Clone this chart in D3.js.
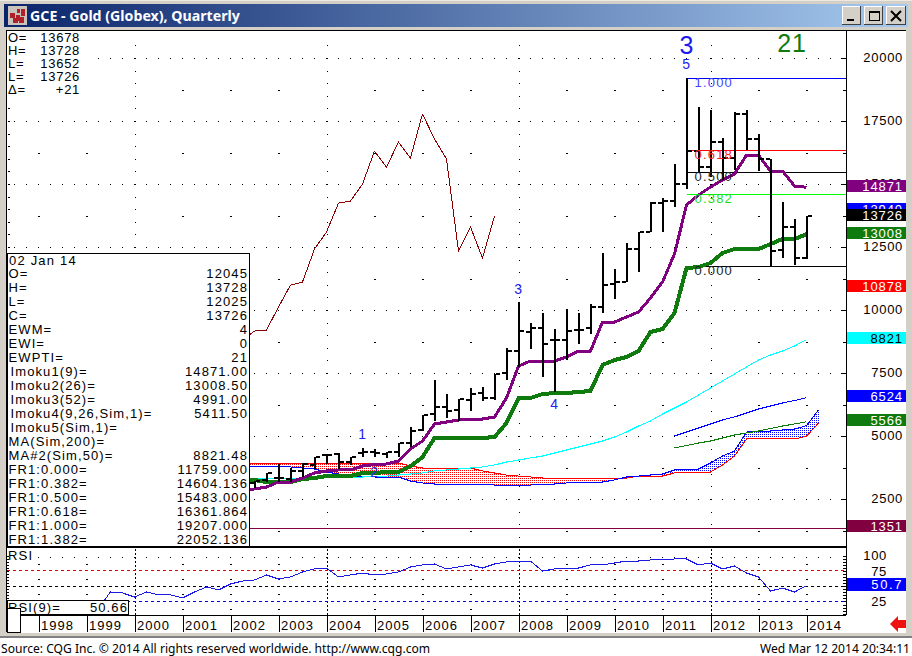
<!DOCTYPE html>
<html>
<head>
<meta charset="utf-8">
<title>GCE - Gold (Globex), Quarterly</title>
<script src="https://cdn.jsdelivr.net/npm/d3@7"></script>
<style>
  html, body { margin: 0; padding: 0; background: #fff; overflow: hidden; }
  svg { display: block; }
  text { font-family: "Liberation Sans", Arial, sans-serif; font-size: 13px; letter-spacing: 0.7px; fill: #000; }
  .crisp { shape-rendering: crispEdges; }
  .axis text { font-size: 13px; }
  .axis path { display: none; }
</style>
</head>
<body>
<div id="chart"></div>
<script>
// quarterly bars, first one is 2002 Q3
var firstBarYear = 2002.5;
var barOpen = [3135,3254,3333,3293,3611,3849,4246,4285,3968,4325,4365,4285,4365,4722,5238,5873,6150,6031,6428,6706,6508,7500,8372,9126,9285,8809,8809,9206,9285,10118,11031,11110,12420,13094,14245,14325,14999,16308,15674,16666,16031,17777,16785,15991,12380,13293,12045];
var barHigh = [3214,3532,3889,3730,3928,4166,4285,4325,4166,4524,4484,4365,4722,5357,5833,7222,6666,6468,6904,6944,7460,8492,10317,9484,9880,9245,10039,9880,10237,12261,11626,12658,13094,14285,14444,15793,19207,18054,17935,16824,17856,17935,16983,15991,14285,13610,13728];
var barLow = [2936,3174,3174,3174,3373,3690,3889,3690,3849,4166,4166,4127,4166,4563,5198,5595,5714,5595,5992,6388,6428,7222,7738,8452,7341,6746,8015,8650,9047,9880,10436,11110,11507,13094,13094,14086,14800,15436,15277,15158,15555,16348,15515,11759,12063,11785,12025];
var barClose = [3214,3532,3333,3611,3889,4166,4246,3968,4166,4365,4325,4365,4722,5198,5833,6150,5992,6468,6666,6508,7460,8372,9166,9285,8650,8809,9166,9206,10118,10991,11110,12420,13094,14245,14325,14999,16308,15674,16666,16031,17777,16785,15991,12341,13293,12063,13726];

// overlay studies, first value is 2002 Q2
var overlayStart = 2002.25;
var imoku1 = [2860,2897,2976,3174,3174,3333,3532,3611,3651,3651,3809,3869,3889,4008,4484,4801,5476,5555,5635,5654,5674,5754,6508,7777,7976,7976,7976,8134,8372,8372,9523,9523,9722,9920,10476,11110,12222,14166,14563,14880,15158,15396,16150,16150,15515,15515,14920,14871];
var imoku2 = [3254,3254,3174,3174,3174,3293,3333,3412,3412,3412,3532,3532,3571,3571,3809,4166,4920,4920,4920,4920,4920,4960,5516,6508,6508,6666,6706,6706,6746,6785,7817,8015,8134,8372,9126,9245,9880,11666,11706,11864,12261,12420,12420,12420,12618,12817,12817,13008];
var spanRed = [3928,3928,3928,3928,3928,3928,3928,3928,3928,3928,3928,3928,3928,3928,3809,3730,3730,3730,3730,3730,3611,3532,3452,3412,3373,3333,3333,3333,3333,3333,3333,3333,3333,3412,3412,3412,3532,3532,3571,3571,3849,4206,4881,4881,4881,4881,4881,4991,5516];
var spanBlue = [3809,3809,3809,3770,3770,3730,3690,3571,3492,3412,3412,3373,3373,3373,3214,3135,3095,3095,3095,3095,3095,3055,3055,3055,3055,3095,3095,3135,3135,3135,3174,3254,3373,3412,3452,3492,3651,3651,3690,3928,4206,4404,5158,5198,5198,5238,5277,5411,6031];
var maCyan = [3333,3333,3333,3333,3333,3333,3373,3373,3373,3373,3373,3412,3412,3452,3492,3532,3611,3651,3690,3730,3770,3849,3968,4047,4127,4206,4325,4444,4563,4682,4801,4960,5158,5396,5595,5873,6111,6349,6627,6904,7182,7460,7738,8015,8214,8372,8571,8821];

// the two late lines start in 2011 Q2
var lateStart = 2011.25;
var lateBlue = [5000,5158,5317,5476,5635,5754,5912,6071,6190,6309,6408,6524];
var lateGreen = [4524,4623,4722,4801,4920,5039,5119,5198,5297,5396,5476,5566];

// RSI, first value is 1999 Q2
var rsiStart = 1999.25;
var rsiValues = [14,40.5,38.9,32.3,40.5,35.6,35.6,30.7,40.5,48.7,43.8,53.6,58.5,60.2,68.4,61.8,65.1,73.3,78.2,79.8,65.1,68.4,71.6,68.4,70,73.3,81.5,84.8,86.4,78.2,81.5,84.8,79.8,86.4,89.7,91.3,91.3,74.9,78.2,79.8,79.8,84.8,84.8,88,91.3,91.3,93,93,94.6,94.6,84.8,88,78.2,83.1,71.6,65.1,42.1,47,40.5,50.66];

var years = [1998,1999,2000,2001,2002,2003,2004,2005,2006,2007,2008,2009,2010,2011,2012,2013,2014];
var priceTicks = [20000,17500,15000,12500,10000,7500,5000,2500];
var rsiTicks = [100,75,25];

var fibLevels = ["1.000","0.618","0.500","0.382","0.000"];
var fibPrices = [19207,16361.864,15483,14604.136,11759];
var fibColors = ["#0000ff","#ff0000","#000000","#00ff00","#000000"];
var fibTextColors = ["#4444ff","#ff2020","#222222","#22dd22","#222222"];

var waveLabels = ["1","2","3","4","5"];
var waveYears = [2004.75,2005,2008,2008.75,2011.5];
var wavePrices = [4880,3373,10635,6071,19563];

var tagTexts = ["13940","14871","13726","13008","10878","8821","6524","5566","1351"];
var tagPrices = [13968,14871,13726,13008,10878,8821,6524,5566,1351];
var tagColors = ["#0000ff","#800080","#000000","#0f7b0f","#ff0000","#00ffff","#0000ff","#0f7b0f","#800040"];
var tagTextColors = ["#fff","#fff","#fff","#fff","#fff","#000","#fff","#fff","#fff"];

var quoteLabels = ["O=","H=","L=","L=","\u0394="];
var quoteValues = ["13678","13728","13652","13726","+21"];

var infoLabels = ["O=","H=","L=","C=","EWM=","EWI=","EWPTI="," Imoku1(9)="," Imoku2(26)="," Imoku3(52)="," Imoku4(9,26,Sim,1)="," Imoku5(Sim,1)=","MA(Sim,200)=","MA#2(Sim,50)=","FR1:0.000=","FR1:0.382=","FR1:0.500=","FR1:0.618=","FR1:1.000=","FR1:1.382="];
var infoValues = ["12045","13728","12025","13726","4","0","21","14871.00","13008.50","4991.00","5411.50","","","8821.48","11759.000","14604.136","15483.000","16361.864","19207.000","22052.136"];

var width = 912, height = 656;
var plot = {left: 7, right: 846, top: 31, bottom: 547, rsiTop: 548, rsiBottom: 615, axisBottom: 632};

var svg = d3.select("#chart").append("svg")
  .attr("width", width)
  .attr("height", height);

var x = d3.scaleLinear().domain([1998, 2014]).range([38.5, 806.5]);
var y = d3.scaleLinear().domain([0, 20000]).range([562, 58]);
var rsiY = d3.scaleLinear().domain([0, 100]).range([616.7, 555.7]);

function rect(parent, rx, ry, w, h, fill) {
  return parent.append("rect").attr("x", rx).attr("y", ry).attr("width", w).attr("height", h)
    .attr("fill", fill).attr("class", "crisp");
}

// window frame
rect(svg, 0, 0, width, height, "#d4d0c8");
rect(svg, 0, 638, width, 18, "#ffffff");
rect(svg, 0, 0, width, 1, "#ece9e0");
rect(svg, 0, 636, width, 2, "#808080");

var grad = svg.append("defs").append("linearGradient").attr("id", "titlebar");
grad.append("stop").attr("offset", "0%").attr("stop-color", "#0a246a");
grad.append("stop").attr("offset", "100%").attr("stop-color", "#a6caf0");
rect(svg, 4, 4, width - 8, 23, "url(#titlebar)");

// title icon
rect(svg, 8, 6, 19, 19, "#c8c4bc");
[[10,13,5,5],[16,15,4,6],[21,9,4,7],[13,18,5,5],[19,17,5,6],[17,9,3,4]].forEach(function(s) {
  rect(svg, s[0], s[1], s[2], s[3], "#b02028");
});

svg.append("text").attr("x", 30).attr("y", 21)
  .style("font-family", "'Noto Sans', sans-serif").style("font-weight", "bold").style("font-size", "14.2px")
  .style("letter-spacing", "0px").style("fill", "#fff")
  .text("GCE - Gold (Globex), Quarterly");

// window buttons
[842, 864, 886].forEach(function(bx, i) {
  var w = i == 2 ? 20 : 19;
  rect(svg, bx, 6, w, 19, "#d4d0c8");
  rect(svg, bx, 6, w, 1, "#ffffff");
  rect(svg, bx, 6, 1, 19, "#ffffff");
  rect(svg, bx, 24, w, 1, "#404040");
  rect(svg, bx + w - 1, 6, 1, 19, "#404040");
});
rect(svg, 847, 19, 7, 2, "#000");
svg.append("rect").attr("x", 869.5).attr("y", 11.5).attr("width", 10).attr("height", 9)
  .attr("fill", "none").attr("stroke", "#000").attr("class", "crisp");
rect(svg, 869, 11, 11, 2, "#000");
svg.append("path").attr("d", "M891,11L901,21M901,11L891,21").attr("stroke", "#000").attr("stroke-width", 2);

// white chart area
rect(svg, plot.left, plot.top, 899, plot.axisBottom - plot.top + 1, "#ffffff");

var gridLayer = svg.append("g").attr("class", "crisp");

// quarter positions for dotted rows, going back from the last bar
var quarters = d3.range(1998 - 0.5, 2014.75, 0.25).filter(function(q) { return x(q) > plot.left + 6 && x(q) < plot.right - 4; });
var wholeYears = d3.range(1998, 2015);
var fourYears = [2000, 2004, 2008, 2012];

// price rows
priceTicks.forEach(function(p) {
  gridLayer.selectAll(null).data(quarters).enter().append("rect")
    .attr("x", function(d) { return x(d) - 0.5; }).attr("y", Math.round(y(p))).attr("width", 1).attr("height", 1).attr("fill", "#000");
});
// price half rows, short dashes at the year positions
d3.range(1250, 20000, 2500).forEach(function(p) {
  gridLayer.selectAll(null).data(wholeYears.filter(function(d) { return fourYears.indexOf(d) < 0; })).enter().append("rect")
    .attr("x", function(d) { return x(d) - 0.5; }).attr("y", Math.round(y(p))).attr("width", 2).attr("height", 1).attr("fill", "#000");
});
// dotted columns every four years
fourYears.forEach(function(yr) {
  gridLayer.selectAll(null).data(d3.range(0, 21000, 500).filter(function(p) { return y(p) > plot.top + 2 && y(p) < plot.bottom; })).enter().append("rect")
    .attr("x", Math.round(x(yr))).attr("y", function(d) { return Math.round(y(d)); }).attr("width", 1).attr("height", 1).attr("fill", "#000");
});

// axis tick combs on the price pane
d3.range(0, 21000, 1250).forEach(function(p) {
  var major = p % 2500 == 0;
  if (y(p) < plot.top || y(p) > plot.bottom) return;
  rect(gridLayer, major ? plot.right - 5 : plot.right - 3, Math.round(y(p)), major ? 5 : 3, 1, "#000");
});
d3.range(0, 21000, 500).forEach(function(p) {
  if (y(p) < plot.top || y(p) > plot.bottom) return;
  rect(gridLayer, plot.left + 1, Math.round(y(p)), 2, 1, "#000");
});

function seriesLine(start) {
  return d3.line()
    .x(function(d, i) { return x(start + i / 4); })
    .y(function(d) { return y(d); });
}

// dotted fill between the two span lines
var defs = svg.select("defs");
[["dotRed", "#ff0000"], ["dotBlue", "#0000ff"]].forEach(function(p) {
  var pat = defs.append("pattern").attr("id", p[0]).attr("width", 2).attr("height", 2).attr("patternUnits", "userSpaceOnUse");
  pat.append("rect").attr("width", 1).attr("height", 1).attr("fill", p[1]).attr("class", "crisp");
});
var spanIdx = d3.range(spanRed.length);
svg.append("path").datum(spanIdx)
  .attr("fill", "url(#dotRed)").attr("class", "crisp")
  .attr("d", d3.area()
    .x(function(i) { return x(overlayStart + i / 4); })
    .y0(function(i) { return y(Math.min(spanRed[i], spanBlue[i])); })
    .y1(function(i) { return y(spanRed[i]); }));
svg.append("path").datum(spanIdx)
  .attr("fill", "url(#dotBlue)").attr("class", "crisp")
  .attr("d", d3.area()
    .x(function(i) { return x(overlayStart + i / 4); })
    .y0(function(i) { return y(Math.min(spanRed[i], spanBlue[i])); })
    .y1(function(i) { return y(spanBlue[i]); }));

function drawLine(values, start, color, sw) {
  svg.append("path").datum(values)
    .attr("fill", "none").attr("stroke", color).attr("stroke-width", sw).attr("class", "crisp")
    .attr("stroke-linejoin", "round")
    .attr("d", seriesLine(start));
}

drawLine(spanRed, overlayStart, "#ff0000", 1);
drawLine(spanBlue, overlayStart, "#0000ff", 1);
drawLine(maCyan, overlayStart, "#00ffff", 1);
drawLine(lateBlue, lateStart, "#0000ff", 1);
drawLine(lateGreen, lateStart, "#0f7b0f", 1);

// lagging line is the close pushed back 26 quarters
drawLine(barClose.slice(25), firstBarYear + 25 / 4 - 6.5, "#8b0000", 1);

// horizontal level
rect(svg, plot.left, Math.round(y(1351)), plot.right - plot.left, 1, "#800040");

// fibonacci retracement
var fibStart = 2011.5;
svg.selectAll(".fib").data(fibPrices).enter().append("rect")
  .attr("class", "fib crisp")
  .attr("x", x(fibStart)).attr("width", plot.right - x(fibStart)).attr("height", 1)
  .attr("y", function(d) { return Math.round(y(d)); })
  .attr("fill", function(d, i) { return fibColors[i]; });

drawLine(imoku2, overlayStart, "#0f7b0f", 4);
drawLine(imoku1, overlayStart, "#800080", 3);

// OHLC bars
var bars = svg.append("g").attr("class", "crisp");
bars.selectAll(".stem").data(barHigh).enter().append("rect")
  .attr("class", "stem")
  .attr("x", function(d, i) { return Math.round(x(firstBarYear + i / 4)) - 1; })
  .attr("width", 2)
  .attr("y", function(d) { return y(d); })
  .attr("height", function(d, i) { return y(barLow[i]) - y(d); });
bars.selectAll(".open").data(barOpen).enter().append("rect")
  .attr("class", "open")
  .attr("x", function(d, i) { return Math.round(x(firstBarYear + i / 4)) - 5; })
  .attr("width", 4).attr("height", 2)
  .attr("y", function(d) { return Math.round(y(d)) - 1; });
bars.selectAll(".close").data(barClose).enter().append("rect")
  .attr("class", "close")
  .attr("x", function(d, i) { return Math.round(x(firstBarYear + i / 4)) + 1; })
  .attr("width", 4).attr("height", 2)
  .attr("y", function(d) { return Math.round(y(d)) - 1; });

// fibonacci texts go over the bars
svg.selectAll(".fibText").data(fibPrices).enter().append("text")
  .attr("class", "fibText")
  .attr("x", x(fibStart) + 8)
  .attr("y", function(d) { return y(d) + 9; })
  .style("fill", function(d, i) { return fibTextColors[i]; })
  .style("letter-spacing", "1.2px")
  .text(function(d, i) { return fibLevels[i]; });

// elliott wave labels
svg.selectAll(".wave").data(waveLabels).enter().append("text")
  .attr("class", "wave")
  .attr("x", function(d, i) { return x(waveYears[i]); })
  .attr("y", function(d, i) { return y(wavePrices[i]); })
  .attr("text-anchor", "middle")
  .style("fill", "#2222ee").style("font-size", "14px")
  .text(function(d) { return d; });
svg.append("text").attr("x", x(2011.5)).attr("y", 54).attr("text-anchor", "middle")
  .style("fill", "#1a1aee").style("font-size", "25px").style("letter-spacing", "0").text("3");
svg.append("text").attr("x", x(2013.7)).attr("y", 52).attr("text-anchor", "middle")
  .style("fill", "#0f7b0f").style("font-size", "25px").style("letter-spacing", "1px").text("21");

// top left quote block
rect(svg, plot.left + 1, plot.top + 1, 88, 66, "#ffffff");
quoteLabels.forEach(function(l, i) {
  svg.append("text").attr("x", 8).attr("y", 42 + i * 13).text(l);
  svg.append("text").attr("x", 80).attr("y", 42 + i * 13).attr("text-anchor", "end").text(quoteValues[i]);
});

// data panel
svg.append("rect").attr("class", "crisp")
  .attr("x", 7.5).attr("y", 253.5).attr("width", 242).attr("height", 293)
  .attr("fill", "#fff").attr("stroke", "#000");
svg.append("text").attr("x", 9).attr("y", 265).style("letter-spacing", "1.2px").text("02 Jan 14");
infoLabels.forEach(function(l, i) {
  svg.append("text").attr("x", l.charAt(0) == " " ? 10.5 : 8.5).attr("y", 278 + i * 14)
    .style("letter-spacing", "1.1px").text(l.trim());
  svg.append("text").attr("x", 248).attr("y", 278 + i * 14).attr("text-anchor", "end")
    .style("letter-spacing", "1.1px").text(infoValues[i]);
});

// price axis labels
var priceAxis = svg.append("g").attr("class", "axis")
  .attr("transform", "translate(" + plot.right + ",0)")
  .call(d3.axisRight(y).tickValues(priceTicks).tickSize(0).tickFormat(d3.format("d")));
priceAxis.selectAll("text").attr("x", 57).attr("text-anchor", "end").attr("dy", "0.32em").attr("y", -1);

// value tags on the right, 13726 lies over the blue one
var tagGroups = svg.selectAll(".tag").data(tagPrices).enter().append("g").attr("class", "tag");
tagGroups.append("rect")
  .attr("class", "crisp")
  .attr("x", 847).attr("width", 59).attr("height", 12)
  .attr("y", function(d) { return Math.round(y(d) - 7.5); })
  .attr("fill", function(d, i) { return tagColors[i]; });
tagGroups.append("text")
  .attr("x", 903).attr("text-anchor", "end")
  .attr("y", function(d) { return Math.round(y(d) - 7.5) + 11; })
  .style("fill", function(d, i) { return tagTextColors[i]; })
  .style("letter-spacing", "0.9px")
  .text(function(d, i) { return tagTexts[i]; });

// plot borders
var frame = svg.append("g").attr("class", "crisp");
rect(frame, plot.left - 1, plot.top - 1, 1, plot.axisBottom - plot.top + 1, "#000");
rect(frame, plot.left - 1, plot.top - 1, 900, 1, "#000");
rect(frame, plot.right, plot.top - 1, 1, plot.rsiBottom - plot.top + 1, "#000");
rect(frame, plot.left, plot.bottom - 1, plot.right - plot.left, 2, "#000");
rect(frame, plot.left, plot.rsiBottom, plot.right - plot.left, 1, "#000");

// RSI pane
var rsiGrid = svg.append("g").attr("class", "crisp");
rsiGrid.selectAll(null).data(quarters).enter().append("rect")
  .attr("x", function(d) { return x(d) - 0.5; }).attr("y", Math.round(rsiY(100)) + 1).attr("width", 1).attr("height", 1);
[87,62.5,38,13].forEach(function(v) {
  rsiGrid.selectAll(null).data(wholeYears.filter(function(d) { return fourYears.indexOf(d) < 0; })).enter().append("rect")
    .attr("x", function(d) { return x(d) - 0.5; }).attr("y", Math.round(rsiY(v))).attr("width", 2).attr("height", 1);
});
fourYears.forEach(function(yr) {
  rsiGrid.selectAll(null).data(d3.range(549, 615, 4)).enter().append("rect")
    .attr("x", Math.round(x(yr))).attr("y", function(d) { return d; }).attr("width", 1).attr("height", 2);
});
d3.range(0, 105, 5).forEach(function(v) {
  if (rsiY(v) > plot.rsiBottom) return;
  rect(rsiGrid, plot.right - 3, Math.round(rsiY(v)), 3, 1, "#000");
  rect(rsiGrid, plot.left, Math.round(rsiY(v)), 2, 1, "#000");
});
[[75, "#e00000"], [50, "#000000"], [25, "#0000e0"]].forEach(function(r) {
  svg.append("line").attr("class", "crisp")
    .attr("x1", plot.left).attr("x2", plot.right)
    .attr("y1", rsiY(r[0])).attr("y2", rsiY(r[0]))
    .attr("stroke", r[1]).attr("stroke-dasharray", "3 3");
});
svg.append("path").datum(rsiValues)
  .attr("fill", "none").attr("stroke", "#1a1ae0").attr("stroke-width", 1).attr("class", "crisp")
  .attr("d", d3.line()
    .x(function(d, i) { return x(rsiStart + i / 4); })
    .y(function(d) { return rsiY(d); }));

svg.append("text").attr("x", 8).attr("y", 560).style("letter-spacing", "1.2px").text("RSI");

// RSI readout box
svg.append("rect").attr("class", "crisp")
  .attr("x", 7.5).attr("y", 600.5).attr("width", 121).attr("height", 14)
  .attr("fill", "#fff").attr("stroke", "#000");
svg.append("text").attr("x", 8).attr("y", 612).style("letter-spacing", "1.1px").text("RSI(9)=");
svg.append("text").attr("x", 128).attr("y", 612).attr("text-anchor", "end").style("letter-spacing", "1.1px").text("50.66");

var rsiAxis = svg.append("g").attr("class", "axis")
  .attr("transform", "translate(" + plot.right + ",0)")
  .call(d3.axisRight(rsiY).tickValues(rsiTicks).tickSize(0).tickFormat(d3.format("d")));
rsiAxis.selectAll("text").attr("x", 41).attr("text-anchor", "end").attr("dy", "0.32em");

rect(svg, 847, 578, 59, 13, "#0000ff");
svg.append("text").attr("x", 903).attr("y", 589).attr("text-anchor", "end")
  .style("fill", "#fff").style("letter-spacing", "1.6px").text("50.7");

// year axis
var yearAxis = svg.append("g").attr("class", "axis")
  .attr("transform", "translate(0," + plot.rsiBottom + ")")
  .call(d3.axisBottom(x).tickValues(years).tickSize(17).tickFormat(d3.format("d")));
yearAxis.selectAll("line").attr("stroke", "#000").attr("class", "crisp");
yearAxis.selectAll("text").attr("text-anchor", "start").attr("x", 2).attr("y", 3).attr("dy", "0.9em")
  .style("letter-spacing", "1px");

// scroller stub
svg.append("rect").attr("class", "crisp")
  .attr("x", 7.5).attr("y", 608.5).attr("width", 13).attr("height", 24)
  .attr("fill", "#fff").attr("stroke", "#000");

// red scroll arrow
svg.append("path")
  .attr("d", "M890,624L898,616L898,620L906,620L906,628L898,628L898,632Z")
  .attr("fill", "#ee1111");

// footer
svg.append("text").attr("x", 1).attr("y", 653)
  .style("font-family", "'Noto Sans', sans-serif").style("font-size", "12.1px").style("letter-spacing", "0px")
  .text("Source: CQG Inc. \u00a9 2014 All rights reserved worldwide. http://www.cqg.com");
svg.append("text").attr("x", 910).attr("y", 653).attr("text-anchor", "end")
  .style("font-family", "'Noto Sans', sans-serif").style("font-size", "12.1px").style("letter-spacing", "0px")
  .text("Wed Mar 12 2014 20:34:11");
</script>
</body>
</html>
